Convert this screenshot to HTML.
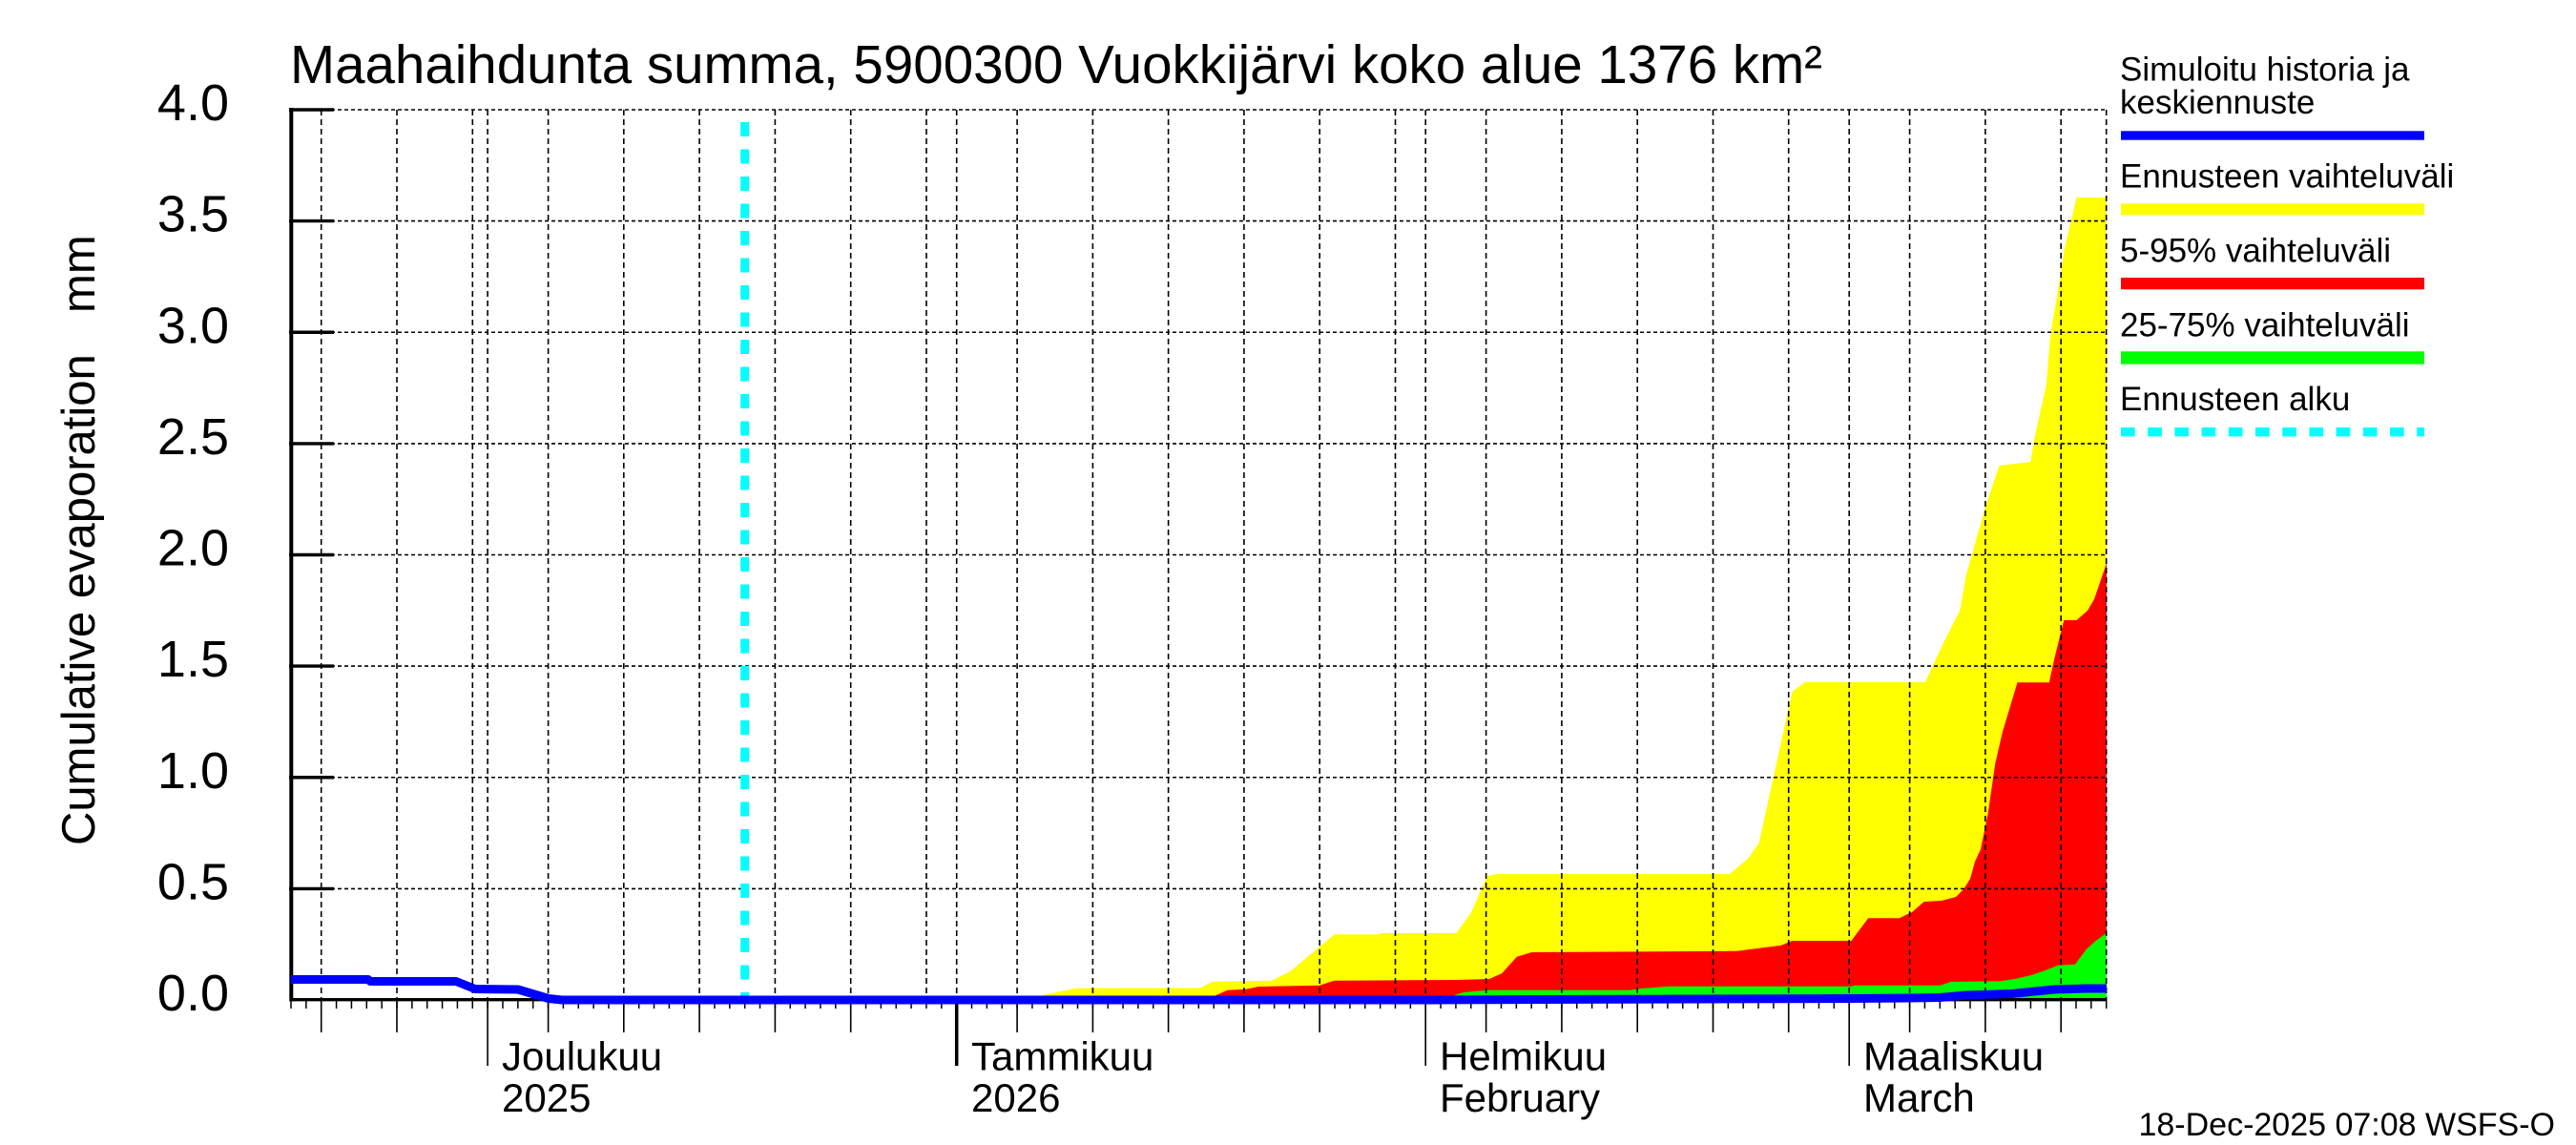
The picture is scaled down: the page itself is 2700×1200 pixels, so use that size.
<!DOCTYPE html>
<html>
<head>
<meta charset="utf-8">
<style>
  html, body { margin: 0; padding: 0; background: #ffffff; }
  svg { display: block; }
  text { font-family: "Liberation Sans", Arial, sans-serif; fill: #000; }
</style>
</head>
<body>
<svg width="2700" height="1200" viewBox="0 0 2700 1200" xmlns="http://www.w3.org/2000/svg">
  <defs>
    <pattern id="dayticks" x="304.25" y="0" width="15.856" height="1200" patternUnits="userSpaceOnUse">
      <rect x="0" y="0" width="1.5" height="1200" fill="#000"/>
    </pattern>
  </defs>
  <rect x="0" y="0" width="2700" height="1200" fill="#fff"/>

  <!-- Title -->
  <text x="304" y="87" font-size="56.5">Maahaihdunta summa, 5900300 Vuokkijärvi koko alue 1376 km²</text>

  <!-- Fills -->
  <path fill="#ffff00" d="M1080,1048 L1093,1043 L1127.7,1035.7 L1257.7,1035.5 L1270.9,1028.7 L1332.8,1027.7 L1352,1018.3 L1398.6,979.3 L1445,979.3 L1447.4,978 L1526.3,978 L1541.8,956.7 L1558.8,918.3 L1568.9,916 L1812.7,916 L1832,900 L1843.7,883.3 L1859.1,813.3 L1878.5,725 L1891.6,715 L2017.8,715 L2037.2,673.3 L2054.2,640 L2060.7,603 L2081,531 L2095.5,488 L2128.5,484 L2131.9,461.5 L2144.7,404 L2149.3,350 L2159.1,292 L2163.8,261 L2176.5,207 L2208,207 L2208,1048 Z"/>
  <path fill="#ff0000" d="M1265,1048 L1274.8,1043 L1286.4,1037.7 L1305.7,1036.7 L1318.9,1034 L1383,1032.7 L1398.6,1027.7 L1526.3,1027 L1561,1026 L1574.3,1020 L1589.8,1002.7 L1605.3,998 L1820.4,996.7 L1866.9,990.7 L1878.5,986 L1940.4,986 L1958.2,962.3 L1990.7,962.3 L2004,956 L2016.7,945 L2035,944 L2050,940 L2058.3,931.7 L2065,921 L2070,903 L2076,890 L2083.6,853 L2091.3,800 L2099,766.7 L2114.5,715.3 L2147.8,715.3 L2153.3,690 L2163.3,650 L2176.5,650 L2188,640 L2195,628 L2208,590 L2208,1048 Z"/>
  <path fill="#00ff00" d="M1505,1048 L1514.7,1046 L1534,1040 L1558.8,1037.7 L1708.2,1037.7 L1719.8,1036 L1749.2,1033.7 L1940.4,1033.7 L1944.3,1032.7 L2033.3,1032.7 L2045,1029 L2096.7,1028.3 L2113,1025.7 L2130,1021.7 L2143,1017.3 L2156.7,1011.7 L2175,1010.7 L2186.7,995 L2196.7,986 L2208,977.7 L2208,1048 Z"/>

  <!-- Horizontal grid -->
  <path fill="none" stroke="#000" stroke-width="1.6" stroke-dasharray="4 3"
        d="M305,115 H2208 M305,231.6 H2208 M305,348.25 H2208 M305,464.9 H2208 M305,581.5 H2208 M305,698.1 H2208 M305,814.75 H2208 M305,931.4 H2208"/>
  <!-- Vertical grid -->
  <path fill="none" stroke="#000" stroke-width="1.6" stroke-dasharray="6 4"
        d="M336.7,115 V1048 M416,115 V1048 M495.3,115 V1048 M511.1,115 V1048 M574.6,115 V1048 M653.8,115 V1048 M733.1,115 V1048 M812.4,115 V1048 M891.7,115 V1048 M971,115 V1048 M1002.7,115 V1048 M1066.1,115 V1048 M1145.4,115 V1048 M1224.6,115 V1048 M1303.9,115 V1048 M1383.2,115 V1048 M1462.5,115 V1048 M1494.2,115 V1048 M1557.6,115 V1048 M1636.9,115 V1048 M1716.2,115 V1048 M1795.5,115 V1048 M1874.7,115 V1048 M1938.2,115 V1048 M2001.6,115 V1048 M2080.9,115 V1048 M2160.2,115 V1048 M2207.7,115 V1048"/>

  <!-- Axes -->
  <line x1="305.3" y1="113" x2="305.3" y2="1049.5" stroke="#000" stroke-width="4"/>
  <line x1="303.5" y1="1047.7" x2="2208" y2="1047.7" stroke="#000" stroke-width="3.4"/>
  <path fill="none" stroke="#000" stroke-width="3.4"
        d="M303,115 H350 M303,231.6 H350 M303,348.25 H350 M303,464.9 H350 M303,581.5 H350 M303,698.1 H350 M303,814.75 H350 M303,931.4 H350"/>

  <!-- Day ticks -->
  <rect x="304" y="1048" width="1905" height="9" fill="url(#dayticks)"/>
  <!-- 5-day ticks -->
  <path fill="none" stroke="#000" stroke-width="1.6"
        d="M336.7,1048 V1082 M416,1048 V1082 M574.6,1048 V1082 M653.8,1048 V1082 M733.1,1048 V1082 M812.4,1048 V1082 M891.7,1048 V1082 M1066.1,1048 V1082 M1145.4,1048 V1082 M1224.6,1048 V1082 M1303.9,1048 V1082 M1383.2,1048 V1082 M1557.6,1048 V1082 M1636.9,1048 V1082 M1716.2,1048 V1082 M1795.5,1048 V1082 M1874.7,1048 V1082 M2001.6,1048 V1082 M2080.9,1048 V1082 M2160.2,1048 V1082"/>
  <!-- Month ticks -->
  <path fill="none" stroke="#000" stroke-width="1.6" d="M511.1,1048 V1117 M1494.2,1048 V1117 M1938.2,1048 V1117"/>
  <line x1="1002.7" y1="1048" x2="1002.7" y2="1117" stroke="#000" stroke-width="3.5"/>

  <!-- Y tick labels -->
  <g font-size="54" text-anchor="end">
    <text x="240" y="126">4.0</text>
    <text x="240" y="242.6">3.5</text>
    <text x="240" y="359.25">3.0</text>
    <text x="240" y="475.9">2.5</text>
    <text x="240" y="592.5">2.0</text>
    <text x="240" y="709.1">1.5</text>
    <text x="240" y="825.75">1.0</text>
    <text x="240" y="942.4">0.5</text>
    <text x="240" y="1059">0.0</text>
  </g>

  <!-- Y axis title -->
  <text font-size="49" transform="translate(99,886) rotate(-90)">Cumulative evaporation</text>
  <text font-size="49" transform="translate(99,328) rotate(-90)">mm</text>

  <!-- Month labels -->
  <g font-size="42">
    <text x="526" y="1121.7">Joulukuu</text>
    <text x="526" y="1165">2025</text>
    <text x="1018" y="1121.7">Tammikuu</text>
    <text x="1018" y="1165">2026</text>
    <text x="1509" y="1121.7">Helmikuu</text>
    <text x="1509" y="1165">February</text>
    <text x="1953" y="1121.7">Maaliskuu</text>
    <text x="1953" y="1165">March</text>
  </g>

  <!-- Forecast start line -->
  <line x1="780.7" y1="128" x2="780.7" y2="1048" stroke="#00ffff" stroke-width="9" stroke-dasharray="15 13.5"/>

  <!-- Median / history line -->
  <path fill="none" stroke="#0000ff" stroke-width="9" stroke-linejoin="round"
        d="M305,1026.5 L386,1026.5 L388,1028.5 L478,1028.5 L498,1036.5 L543,1037 L575,1046.5 L589,1048 L1500,1048 L1700,1047.2 L1940,1046.5 L2000,1046 L2033,1045.5 L2061,1043 L2108,1041.5 L2128,1039.5 L2153,1037 L2187,1036 L2208,1036"/>

  <!-- Legend -->
  <g font-size="35">
    <text x="2222" y="84.3">Simuloitu historia ja</text>
    <text x="2222" y="119">keskiennuste</text>
    <text x="2222" y="196.7">Ennusteen vaihteluväli</text>
    <text x="2222" y="274.3">5-95% vaihteluväli</text>
    <text x="2222" y="352.3">25-75% vaihteluväli</text>
    <text x="2222" y="430">Ennusteen alku</text>
  </g>
  <rect x="2223" y="137.3" width="318" height="9.4" fill="#0000ff"/>
  <rect x="2223" y="213.3" width="318" height="12" fill="#ffff00"/>
  <rect x="2223" y="291" width="318" height="12.3" fill="#ff0000"/>
  <rect x="2223" y="368.3" width="318" height="13.4" fill="#00ff00"/>
  <line x1="2223" y1="452.7" x2="2541" y2="452.7" stroke="#00ffff" stroke-width="9.4" stroke-dasharray="14.7 13.5"/>

  <!-- Timestamp -->
  <text x="2678" y="1190" font-size="34" text-anchor="end">18-Dec-2025 07:08 WSFS-O</text>
</svg>
</body>
</html>
